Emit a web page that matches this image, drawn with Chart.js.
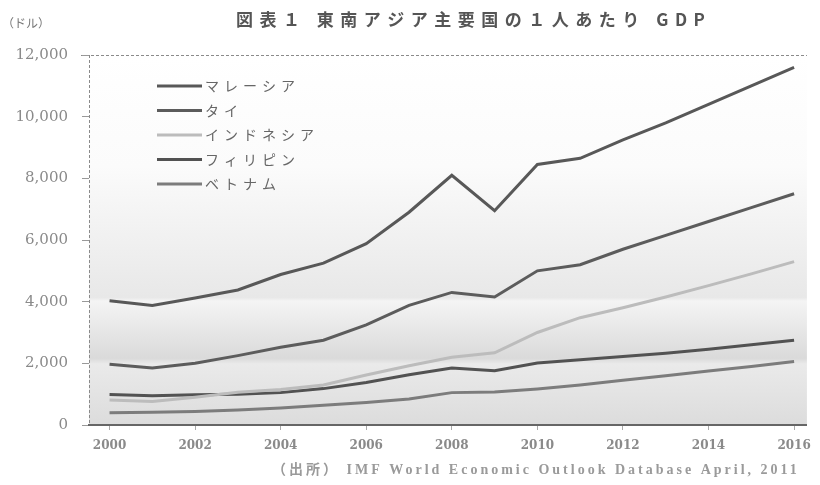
<!DOCTYPE html>
<html>
<head>
<meta charset="utf-8">
<script src="https://cdn.jsdelivr.net/npm/chart.js@4.4.1/dist/chart.umd.min.js"></script>
<style>
  html, body { margin: 0; padding: 0; background: #fff; }
  #wrap { width: 820px; height: 485px; position: relative; }
</style>
</head>
<body>
<div id="wrap"><canvas id="chartGraph" width="820" height="485"></canvas></div>
<script>
const ctx = document.getElementById('chartGraph');

// years and per-capita GDP (US$)
const years = [2000, 2001, 2002, 2003, 2004, 2005, 2006, 2007, 2008, 2009, 2010, 2011, 2012, 2013, 2014, 2015, 2016];
const xTickYears = [2000, 2002, 2004, 2006, 2008, 2010, 2012, 2014, 2016];
const yTickValues = [0, 2000, 4000, 6000, 8000, 10000, 12000];

const seriesNames = ['マレーシア', 'タイ', 'インドネシア', 'フィリピン', 'ベトナム'];
const malaysia = [4030, 3880, 4120, 4380, 4880, 5250, 5880, 6900, 8100, 6950, 8450, 8650, 9250, 9800, 10400, 11000, 11600];
const thailand = [1970, 1850, 2000, 2250, 2520, 2750, 3250, 3880, 4300, 4150, 5000, 5200, 5700, 6150, 6600, 7050, 7500];
const indonesia = [810, 760, 900, 1060, 1150, 1300, 1620, 1920, 2200, 2340, 3000, 3480, 3800, 4150, 4520, 4900, 5300];
const philippines = [990, 950, 980, 1000, 1050, 1180, 1380, 1630, 1850, 1760, 2010, 2120, 2220, 2330, 2460, 2600, 2750];
const vietnam = [400, 410, 440, 490, 550, 640, 730, 840, 1050, 1070, 1170, 1300, 1450, 1600, 1750, 1900, 2060];

const titleText = '図表１ 東南アジア主要国の１人あたり GDP';
const unitText = '（ドル）';
const sourceText = '（出所） IMF World Economic Outlook Database April, 2011';

const lineColors = ['#585858', '#5c5c5c', '#bcbcbc', '#525252', '#7c7c7c'];
const allSeries = [malaysia, thailand, indonesia, philippines, vietnam];

const datasets = allSeries.map((vals, i) => ({
  label: seriesNames[i],
  data: vals.map((v, j) => ({ x: years[j], y: v })),
  borderColor: lineColors[i],
  borderWidth: 3,
  pointRadius: 0,
  tension: 0,
  fill: false
}));

const backgroundPlugin = {
  id: 'plotBg',
  beforeDraw(chart) {
    const { ctx, chartArea: a } = chart;
    const g = ctx.createLinearGradient(0, a.top, 0, a.bottom);
    g.addColorStop(0, '#ffffff');
    g.addColorStop(0.3, '#fbfbfb');
    g.addColorStop(0.655, '#e8e8e8');
    g.addColorStop(0.665, '#f4f4f4');
    g.addColorStop(0.82, '#dadada');
    g.addColorStop(0.835, '#eaeaea');
    g.addColorStop(1, '#dcdcdc');
    ctx.save();
    ctx.fillStyle = g;
    ctx.fillRect(a.left, a.top, a.right - a.left, a.bottom - a.top);
    // dashed line at top and left edge
    ctx.strokeStyle = '#8a8a8a';
    ctx.lineWidth = 1;
    ctx.setLineDash([3, 2]);
    ctx.beginPath();
    ctx.moveTo(a.left - 8, a.top + 0.5);
    ctx.lineTo(a.right, a.top + 0.5);
    ctx.moveTo(a.left + 0.5, a.top);
    ctx.lineTo(a.left + 0.5, a.bottom);
    ctx.stroke();
    ctx.restore();
  }
};

const textPlugin = {
  id: 'texts',
  afterDraw(chart) {
    const { ctx } = chart;
    ctx.save();
    ctx.textBaseline = 'middle';
    ctx.textAlign = 'left';
    ctx.fillStyle = '#555';
    ctx.font = 'bold 17px "Noto Sans CJK JP"';
    ctx.letterSpacing = '6.5px';
    ctx.fillText(titleText, 236, 20);
    ctx.letterSpacing = '0px';
    ctx.font = '12px "Noto Sans CJK JP"';
    ctx.fillStyle = '#777';
    ctx.fillText(unitText, 2, 23);
    ctx.font = 'bold 14px "Liberation Serif", "Noto Sans CJK JP"';
    ctx.fillStyle = '#9a9a9a';
    ctx.letterSpacing = '3px';
    ctx.fillText(sourceText, 272, 470);
    // legend inside plot
    ctx.font = '14px "Noto Sans CJK JP"';
    ctx.letterSpacing = '5px';
    ctx.fillStyle = '#666';
    chart.data.datasets.forEach((ds, i) => {
      const y = 86 + i * 24.5;
      ctx.strokeStyle = ds.borderColor;
      ctx.lineWidth = 3;
      ctx.beginPath();
      ctx.moveTo(157, y);
      ctx.lineTo(202, y);
      ctx.stroke();
      ctx.fillText(ds.label, 205, y);
    });
    ctx.restore();
  }
};

new Chart(ctx, {
  type: 'line',
  data: { datasets: datasets },
  options: {
    responsive: false,
    animation: false,
    layout: { padding: { top: 55, right: 12, left: 0, bottom: 0 } },
    plugins: {
      legend: { display: false },
      title: { display: false },
      tooltip: { enabled: false }
    },
    scales: {
      x: {
        type: 'linear',
        min: 1999.52,
        max: 2016.3,
        afterBuildTicks(scale) {
          scale.ticks = xTickYears.map((v) => ({ value: v }));
        },
        afterFit(scale) { scale.height = 60; },
        grid: {
          display: true,
          drawOnChartArea: false,
          drawTicks: true,
          tickLength: 5,
          color: '#aaa'
        },
        border: { display: true, color: '#666', width: 2 },
        ticks: {
          autoSkip: false,
          maxRotation: 0,
          padding: 9,
          color: '#8a8a8a',
          font: { family: '"DejaVu Serif"', size: 12, weight: 'bold' },
          callback: (v) => String(v)
        }
      },
      y: {
        min: 0,
        max: 12000,
        afterBuildTicks(scale) {
          scale.ticks = yTickValues.map((v) => ({ value: v }));
        },
        afterFit(scale) { scale.width = 89; },
        grid: {
          display: true,
          drawOnChartArea: false,
          drawTicks: true,
          tickLength: 7,
          color: '#999'
        },
        border: { display: false },
        ticks: {
          padding: 14,
          color: '#8a8a8a',
          font: { family: '"DejaVu Serif"', size: 15 },
          callback: (v) => v.toLocaleString('en-US')
        }
      }
    }
  },
  plugins: [backgroundPlugin, textPlugin]
});
</script>
</body>
</html>
